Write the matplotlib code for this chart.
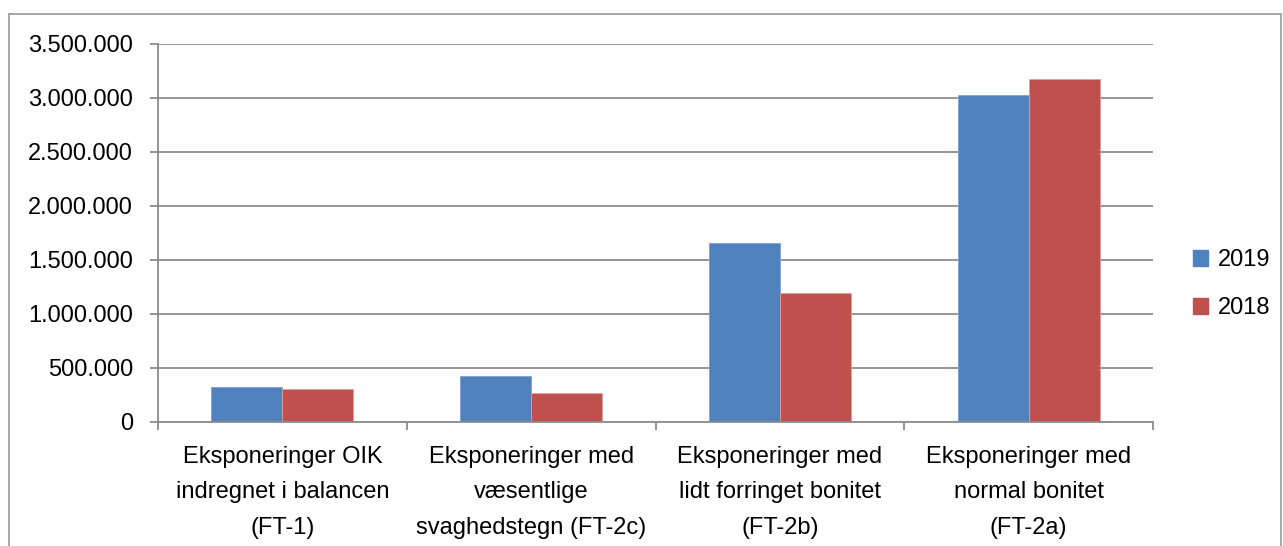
import matplotlib.pyplot as plt
import matplotlib.patches as mpatches
import numpy as np
from matplotlib.ticker import FuncFormatter

categories = [
    "Eksponeringer OIK\nindregnet i balancen\n(FT-1)",
    "Eksponeringer med\nvæsentlige\nsvaghedstegn (FT-2c)",
    "Eksponeringer med\nlidt forringet bonitet\n(FT-2b)",
    "Eksponeringer med\nnormal bonitet\n(FT-2a)",
]
values_2019 = [324000, 424000, 1655000, 3025000]
values_2018 = [305000, 266000, 1193000, 3172000]
series_labels = ["2019", "2018"]

blue = "#4f81bd"
red = "#c0504d"
grid_col = "#8c8c8c"

plt.rcParams['font.family'] = ['Liberation Sans', 'DejaVu Sans']

fig = plt.figure(figsize=(12.83, 5.46), dpi=100)
ax = fig.add_axes((158 / 1283, 124 / 546, 995 / 1283, 378 / 546))

x = np.arange(len(categories))
w = 1 / 3.5
ax.bar(x - w / 2, values_2019, w, color=blue, edgecolor="#7aa0d4", linewidth=0.6,
       label=series_labels[0], zorder=3)
ax.bar(x + w / 2, values_2018, w, color=red, edgecolor="#e0a0a0", linewidth=0.6,
       label=series_labels[1], zorder=3)

ax.set_xlim(-0.5, len(categories) - 0.5)
ax.set_ylim(0, 3500000)
ax.set_yticks(np.arange(0, 3500001, 500000))
ax.yaxis.set_major_formatter(FuncFormatter(lambda v, p: f"{int(v):,}".replace(",", ".")))
ax.grid(axis="y", color=grid_col, linewidth=1.3, zorder=0)

# category labels centred, ticks on boundaries
ax.set_xticks(x)
ax.set_xticklabels(categories, fontsize=17, linespacing=1.8)
ax.tick_params(axis="x", length=0, pad=17)
ax.set_xticks(np.arange(-0.5, len(categories)), minor=True)
ax.tick_params(axis="x", which="minor", length=6, width=1.3, color=grid_col, direction="out")
ax.tick_params(axis="y", length=6, width=1.3, color=grid_col, labelsize=17, pad=12)

for s in ["top", "right"]:
    ax.spines[s].set_visible(False)
for s in ["left", "bottom"]:
    ax.spines[s].set_color(grid_col)
    ax.spines[s].set_linewidth(1.3)
    ax.spines[s].set_zorder(4)

handles = [mpatches.Patch(color=blue, label=series_labels[0]),
           mpatches.Patch(color=red, label=series_labels[1])]
fig.legend(handles=handles, loc="center left", bbox_to_anchor=(1193 / 1283, 1 - 284 / 546),
           frameon=False, fontsize=17, handlelength=0.65, handleheight=0.65,
           handletextpad=0.4, labelspacing=1.1, borderpad=0, borderaxespad=0)

# outer chart border
fig.patches.append(mpatches.Rectangle((9 / 1283, -0.05), 1272 / 1283, 1.05 - 14 / 546,
                                      transform=fig.transFigure, fill=False,
                                      edgecolor="#a0a0a0", linewidth=1.3))

fig.savefig("out.png", dpi=100)
